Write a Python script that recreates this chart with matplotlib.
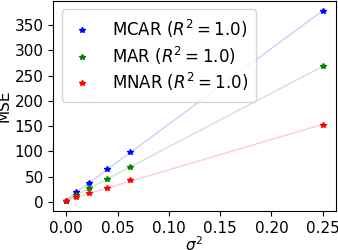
import numpy as np
import matplotlib
matplotlib.use("Agg")
import matplotlib.pyplot as plt
from matplotlib.ticker import MultipleLocator

sigma2 = [0.0, 0.01, 0.0225, 0.04, 0.0625, 0.25]
mse_mcar = [2, 19, 38, 66, 99, 378]
mse_mar = [1, 14, 28, 46, 70, 268]
mse_mnar = [1, 10, 17, 28, 43, 153]
labels = ["MCAR ($R^2 = 1.0$)", "MAR ($R^2 = 1.0$)", "MNAR ($R^2 = 1.0$)"]
colors = ["blue", "green", "red"]

fs = 11
fig, ax = plt.subplots(figsize=(3.38, 2.5), dpi=100)
x = np.array(sigma2)
for ys, lab, c in zip([mse_mcar, mse_mar, mse_mnar], labels, colors):
    ys = np.array(ys)
    ax.plot(x, ys, '*', color=c, markersize=4, label=lab)
    coef = np.polyfit(x, ys, 1)
    ax.plot(x, np.polyval(coef, x), '-', color=c, alpha=0.2, linewidth=1)

ax.yaxis.set_major_locator(MultipleLocator(50))
ax.xaxis.set_major_locator(MultipleLocator(0.05))
ax.set_xlabel(r"$\sigma^2$", fontsize=fs, labelpad=0)
ax.set_ylabel("MSE", fontsize=fs, labelpad=2)
ax.tick_params(labelsize=fs)
ax.legend(loc="upper left", fontsize=12, handlelength=1.4, handletextpad=1.1,
          labelspacing=0.28, borderpad=0.5)
fig.subplots_adjust(left=0.158, right=0.993, top=0.996, bottom=0.156)
fig.savefig("out.png", dpi=100)
